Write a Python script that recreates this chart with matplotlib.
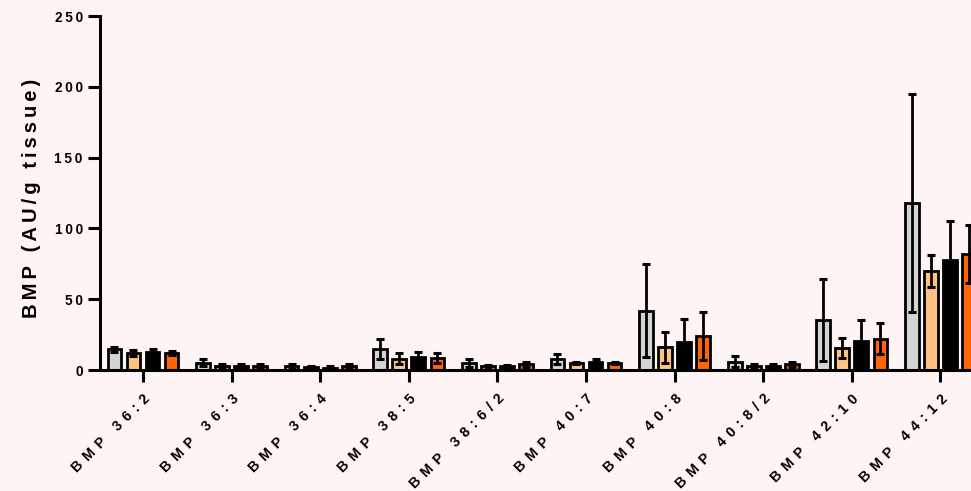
import matplotlib
matplotlib.use("Agg")
import matplotlib.pyplot as plt
import numpy as np

categories = ["BMP 36:2", "BMP 36:3", "BMP 36:4", "BMP 38:5", "BMP 38:6/2",
              "BMP 40:7", "BMP 40:8", "BMP 40:8/2", "BMP 42:10", "BMP 44:12"]

s1_mean = [14.5, 5.0, 2.5, 15.0, 5.0, 8.0, 42.0, 6.0, 35.5, 118.0]
s1_err = [2.0, 2.5, 1.5, 7.0, 3.0, 3.5, 33.0, 4.0, 29.0, 77.0]
s2_mean = [12.0, 3.0, 2.0, 8.0, 2.5, 5.0, 16.0, 3.0, 15.5, 70.0]
s2_err = [2.0, 1.5, 1.0, 4.0, 1.0, 1.0, 11.0, 1.0, 7.0, 11.5]
s3_mean = [13.0, 3.0, 1.5, 9.5, 2.5, 6.0, 20.0, 3.0, 20.5, 78.0]
s3_err = [1.5, 1.5, 1.0, 3.5, 1.0, 1.5, 16.0, 1.5, 14.5, 27.5]
s4_mean = [12.0, 3.0, 3.0, 8.5, 4.0, 5.0, 24.0, 4.0, 22.0, 82.0]
s4_err = [1.5, 1.5, 1.0, 3.5, 2.0, 1.0, 17.0, 2.0, 11.0, 20.5]

means = [s1_mean, s2_mean, s3_mean, s4_mean]
errs = [s1_err, s2_err, s3_err, s4_err]
colors = ["#d4d4d4", "#ffc285", "#000000", "#ff6600"]

bg = "#fdf4f3"
fams = ["Liberation Sans", "DejaVu Sans"]

def spaced(s, sep="\u2009"):
    return sep.join(list(s))

fig = plt.figure(figsize=(9.71, 4.91), dpi=100, facecolor=bg)
ax = fig.add_axes([0.103, 0.2464, 0.897, 0.7210], facecolor=bg)

x = np.arange(len(categories))
pitch = 0.215
width = 0.155
for k in range(4):
    xs = x + (k - 1.5) * pitch
    ax.bar(xs, means[k], width=width, color=colors[k], edgecolor="black",
           linewidth=2.0, zorder=2)
    ax.errorbar(xs, means[k], yerr=errs[k], fmt="none", ecolor="black",
                elinewidth=2.0, capsize=3.2, capthick=2.2, zorder=3)

ax.set_xlim(-0.485, 9.345)
ax.set_ylim(0, 250)
ax.set_yticks([0, 50, 100, 150, 200, 250])
ax.set_yticklabels([spaced(str(v)) for v in [0, 50, 100, 150, 200, 250]],
                   fontsize=9.8, fontweight="bold", family=fams)
ax.set_xticks(x)
ax.set_xticklabels([spaced(c, "\u2009\u2009") for c in categories], rotation=45,
                   ha="right", rotation_mode="anchor", fontsize=10.2,
                   fontweight="bold", family=fams)

for side in ["top", "right"]:
    ax.spines[side].set_visible(False)
for side in ["left", "bottom"]:
    ax.spines[side].set_linewidth(2.2)
ax.tick_params(axis="both", length=8.5, width=2.2, color="black")
ax.tick_params(axis="x", pad=7)
ax.tick_params(axis="y", pad=4)

ax.set_ylabel(spaced("BMP (AU/g tissue)"), fontsize=14.6, fontweight="bold",
              family=fams)
ax.yaxis.set_label_coords(-0.068, 0.485)

fig.savefig("out.png", dpi=100, facecolor=bg)
